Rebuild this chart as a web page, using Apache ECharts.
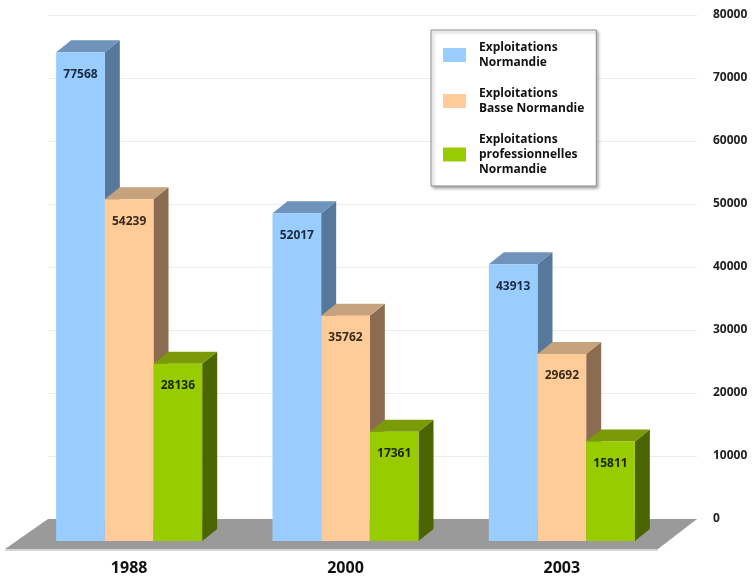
<!DOCTYPE html>
<html>
<head>
<meta charset="utf-8">
<script src="https://cdn.jsdelivr.net/npm/echarts@6/dist/echarts.min.js"></script>
<style>html,body{margin:0;padding:0;background:#fff}#c{width:753px;height:577px}</style>
</head>
<body>
<div id="c"></div>
<script>
const categories = ['1988', '2000', '2003'];
const seriesNames = ['Exploitations\nNormandie', 'Exploitations\nBasse Normandie', 'Exploitations\nprofessionnelles\nNormandie'];
const normandie = [77568, 52017, 43913];
const basseNormandie = [54239, 35762, 29692];
const professionnelles = [28136, 17361, 15811];
const yTicks = [0, 10000, 20000, 30000, 40000, 50000, 60000, 70000, 80000];

const seriesValues = [normandie, basseNormandie, professionnelles];
const faceColors = [
  {front: '#99ccff', top: '#6f93ba', side: '#56789b', label: '#1b2a40'},
  {front: '#ffcc99', top: '#c6a37c', side: '#8b6c50', label: '#3a2a1a'},
  {front: '#99cc00', top: '#7a9a08', side: '#4b6600', label: '#1a2600'}
];
const FONT = '"Open Sans", "DejaVu Sans", sans-serif';
const DX = 15, DY = 12;

function barRenderer(si) {
  return function (params, api) {
    const cat = api.value(0), val = api.value(1);
    const base = api.coord([cat, 0]);
    const top = api.coord([cat, val]);
    const bw = api.size([1, 0])[0] * 0.225;
    const x0 = base[0] + (si - 1.5) * bw;
    const x1 = x0 + bw;
    const yb = base[1], yt = top[1];
    const c = faceColors[si];
    return {
      type: 'group',
      children: [
        {type: 'polygon', shape: {points: [[x1, yb], [x1, yt], [x1 + DX, yt - DY], [x1 + DX, yb - DY]]}, style: {fill: c.side}},
        {type: 'polygon', shape: {points: [[x0, yt], [x0 + DX, yt - DY], [x1 + DX, yt - DY], [x1, yt]]}, style: {fill: c.top}},
        {type: 'rect', shape: {x: x0, y: yt, width: bw, height: yb - yt}, style: {fill: c.front}},
        {type: 'text', style: {text: String(val), x: (x0 + x1) / 2, y: yt + 22, align: 'center', verticalAlign: 'middle',
          fill: c.label, fontSize: 12, fontWeight: 'bold', fontFamily: FONT}}
      ]
    };
  };
}

const barSeries = seriesValues.map((vals, si) => ({
  name: seriesNames[si],
  type: 'custom',
  xAxisIndex: 1,
  yAxisIndex: 1,
  z: 3,
  itemStyle: {color: faceColors[si].front},
  renderItem: barRenderer(si),
  data: vals.map((v, i) => [i, v])
}));

const floorSeries = {
  name: 'floor',
  type: 'custom',
  xAxisIndex: 0,
  yAxisIndex: 0,
  z: 1,
  silent: true,
  renderItem: function (params, api) {
    const cs = params.coordSys;
    const yb = cs.y + cs.height;
    const xl = cs.x, xr = cs.x + cs.width;
    return {
      type: 'group',
      children: [
        {type: 'polygon', shape: {points: [[xl, yb], [xr, yb], [xr - 39, yb + 30], [xl - 43, yb + 30]]}, style: {fill: '#9a9a9a'}},
        {type: 'line', shape: {x1: xl - 43, y1: yb + 31, x2: xr - 39, y2: yb + 31}, style: {stroke: '#d6d6d6', lineWidth: 2}}
      ]
    };
  },
  data: [[0, 0]]
};

const chart = echarts.init(document.getElementById('c'), null, {renderer: 'canvas'});
chart.setOption({
  backgroundColor: '#ffffff',
  animation: false,
  grid: [
    {left: 48, right: 56, top: 15, bottom: 58, outerBoundsMode: 'none', containLabel: false},
    {left: 21, right: 83, top: 37, bottom: 36, outerBoundsMode: 'none', containLabel: false}
  ],
  xAxis: [
    {type: 'category', gridIndex: 0, data: categories, axisLine: {show: false}, axisTick: {show: false}, axisLabel: {show: false}},
    {type: 'category', gridIndex: 1, data: categories, axisLine: {show: false}, axisTick: {show: false},
      axisLabel: {margin: 19, color: '#111', fontSize: 16, fontWeight: 'bold', fontFamily: FONT}}
  ],
  yAxis: [
    {type: 'value', gridIndex: 0, position: 'right', min: yTicks[0], max: yTicks[yTicks.length - 1], interval: 10000,
      axisLine: {show: false}, axisTick: {show: false},
      splitLine: {show: true, lineStyle: {color: '#ececec', width: 1}},
      axisLabel: {margin: 16, align: 'left', color: '#222', fontSize: 12, fontWeight: 'bold', fontFamily: FONT,
        formatter: function (v) { return String(v); }}},
    {type: 'value', gridIndex: 1, min: yTicks[0], max: yTicks[yTicks.length - 1], interval: 10000, show: false}
  ],
  legend: {
    data: seriesNames,
    orient: 'vertical',
    left: 431,
    top: 30,
    width: 181,
    padding: [10, 12, 9, 12],
    itemWidth: 23,
    itemHeight: 14,
    itemGap: 16,
    icon: 'rect',
    backgroundColor: '#ffffff',
    borderColor: '#8c8c8c',
    borderWidth: 1,
    shadowColor: 'rgba(0,0,0,0.35)',
    shadowBlur: 3,
    shadowOffsetX: 2,
    shadowOffsetY: 2,
    textStyle: {color: '#111', fontSize: 12, fontWeight: 'bold', fontFamily: FONT, lineHeight: 15, padding: [0, 0, 0, 8]}
  },
  series: [floorSeries].concat(barSeries)
});
</script>
</body>
</html>
